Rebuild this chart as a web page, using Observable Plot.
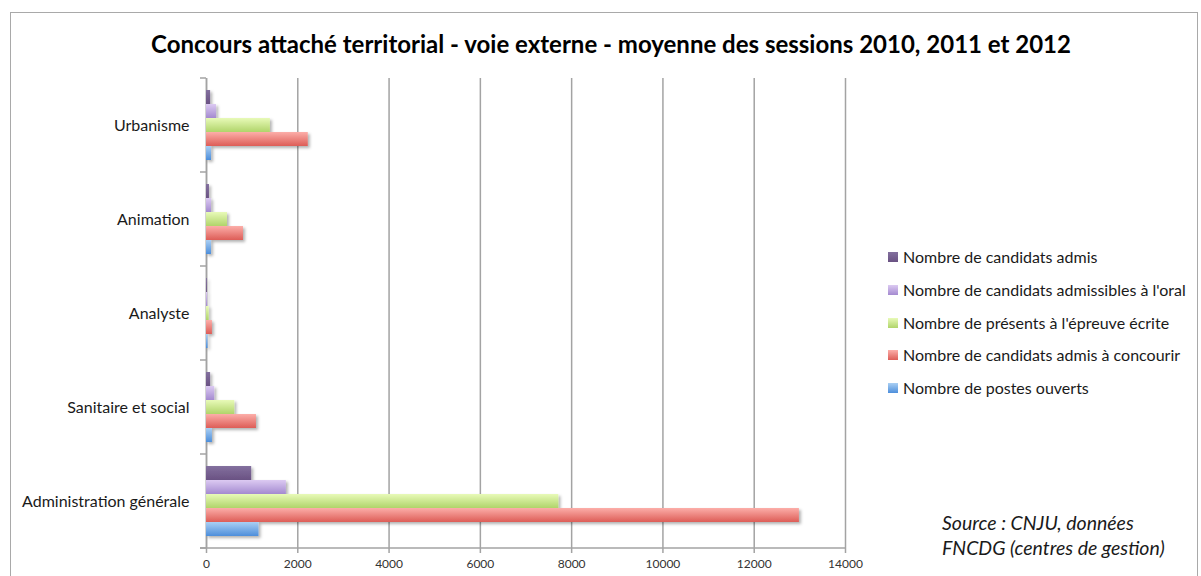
<!DOCTYPE html>
<html>
<head>
<meta charset="utf-8">
<script src="https://cdn.jsdelivr.net/npm/d3@7"></script>
<script src="https://cdn.jsdelivr.net/npm/@observablehq/plot@0.6"></script>
<style>
  html, body { margin: 0; padding: 0; background: #fff; overflow: hidden; }
  #wrap { position: relative; width: 1201px; height: 576px; overflow: hidden; font-family: Lato, "Noto Sans", sans-serif; }
  #frame { position: absolute; left: 10px; top: 12px; width: 1188px; height: 600px; border: 1.5px solid #a9a9a9; box-sizing: border-box; }
  #chart { position: absolute; left: 0; top: 0; }
  #title { position: absolute; left: 10px; width: 1202px; top: 29px; text-align: center; font-weight: bold; font-size: 24px; color: #000; white-space: nowrap; }
  #legend { position: absolute; left: 888px; top: 246px; font-size: 16px; color: #1a1a1a; }
  .item { position: absolute; left: 0; white-space: nowrap; height: 22px; line-height: 22px; }
  .sw { position: absolute; left: 0; top: 6px; width: 10px; height: 10px; }
  .lab { position: absolute; left: 15px; top: 0; }
  #source { position: absolute; left: 942px; top: 510px; font-style: italic; font-size: 19.5px; line-height: 25px; color: #1a1a1a; white-space: nowrap; }
</style>
</head>
<body>
<div id="wrap">
  <div id="frame"></div>
  <div id="chart"></div>
  <div id="title">Concours attaché territorial - voie externe - moyenne des sessions 2010, 2011 et 2012</div>
  <div id="legend"></div>
  <div id="source">Source : CNJU, données<br>FNCDG (centres de gestion)</div>
</div>
<script>
const categories = ["Urbanisme", "Animation", "Analyste", "Sanitaire et social", "Administration générale"];
const series = [
  "Nombre de candidats admis",
  "Nombre de candidats admissibles à l'oral",
  "Nombre de présents à l'épreuve écrite",
  "Nombre de candidats admis à concourir",
  "Nombre de postes ouverts"
];
const admis          = [90, 65, 20, 90, 990];
const admissibles    = [220, 110, 25, 180, 1750];
const presents       = [1400, 460, 60, 620, 7720];
const admisConcourir = [2230, 810, 130, 1095, 12990];
const postes         = [110, 110, 35, 130, 1150];
const xTicks = [0, 2000, 4000, 6000, 8000, 10000, 12000, 14000];

const seriesValues = [admis, admissibles, presents, admisConcourir, postes];
const gradStops = [
  ["#83709e", "#6a5283"],
  ["#dccaf2", "#a48ad0"],
  ["#e8fab8", "#b0d46a"],
  ["#fcaea9", "#dd5d57"],
  ["#aacff3", "#4d8edb"]
];

const rows = [];
categories.forEach((c, i) => {
  series.forEach((s, j) => {
    rows.push({category: c, series: s, si: j, value: seriesValues[j][i]});
  });
});

const plot = Plot.plot({
  width: 1201,
  height: 576,
  marginLeft: 206,
  marginRight: 356,
  marginTop: 78,
  marginBottom: 28,
  style: {fontFamily: "Lato, 'Noto Sans', sans-serif", background: "transparent", overflow: "visible"},
  x: {domain: [0, 14000], axis: null},
  y: {domain: series, paddingInner: 0, paddingOuter: 0.7, axis: null},
  fy: {domain: categories, padding: 0, axis: null},
  color: {type: "identity"},
  marks: [
    Plot.gridX(xTicks, {stroke: "#a3a3a3", strokeOpacity: 1, strokeWidth: 1.5}),
    Plot.ruleX([0], {stroke: "#a3a3a3", strokeWidth: 1.5}),
    Plot.barX(rows, {x: "value", y: "series", fy: "category", fill: d => `url(#grad${d.si})`}),
    Plot.axisFy({anchor: "left", tickSize: 0, tickPadding: 17, fontSize: 16, fill: "#1a1a1a", label: null}),
    Plot.axisX(xTicks, {anchor: "bottom", tickSize: 5, tickPadding: 6, fontSize: 12, fill: "#333", stroke: "#a3a3a3", strokeWidth: 1.5, label: null, tickFormat: d => String(d)})
  ]
});

document.getElementById("chart").appendChild(plot);

const svg = d3.select(plot);
const defs = svg.insert("defs", ":first-child");
gradStops.forEach((st, i) => {
  const g = defs.append("linearGradient").attr("id", `grad${i}`).attr("x1", 0).attr("y1", 0).attr("x2", 0).attr("y2", 1);
  g.append("stop").attr("offset", "0%").attr("stop-color", st[0]);
  g.append("stop").attr("offset", "100%").attr("stop-color", st[1]);
});
const f = defs.append("filter").attr("id", "shadow").attr("x", "-10%").attr("y", "-30%").attr("width", "130%").attr("height", "180%");
f.append("feDropShadow").attr("dx", 2).attr("dy", 2).attr("stdDeviation", 1.4).attr("flood-color", "#000").attr("flood-opacity", 0.3);
svg.selectAll("g[aria-label='bar']").attr("filter", "url(#shadow)");

// axis line and category boundary ticks from the plot's own scales
const xs = plot.scale("x");
const fys = plot.scale("fy");
const bw = fys.bandwidth;
const x0 = xs.apply(0);
const x1 = xs.apply(14000);
const extra = svg.append("g").attr("stroke", "#a3a3a3").attr("stroke-width", 1.5);
const bottom = fys.apply(categories[categories.length - 1]) + bw;
extra.append("line").attr("x1", x0 - 6).attr("x2", x1).attr("y1", bottom).attr("y2", bottom);
const bounds = [fys.apply(categories[0])].concat(categories.map(c => fys.apply(c) + bw));
bounds.forEach(b => {
  extra.append("line").attr("x1", x0 - 6).attr("x2", x0).attr("y1", b).attr("y2", b);
});

// legend
const legend = document.getElementById("legend");
series.forEach((s, i) => {
  const it = document.createElement("div");
  it.className = "item";
  it.style.top = (i * 32.8) + "px";
  const sw = document.createElement("div");
  sw.className = "sw";
  sw.style.background = `linear-gradient(${gradStops[i][0]}, ${gradStops[i][1]})`;
  const lab = document.createElement("div");
  lab.className = "lab";
  lab.textContent = s;
  it.appendChild(sw);
  it.appendChild(lab);
  legend.appendChild(it);
});
</script>
</body>
</html>
